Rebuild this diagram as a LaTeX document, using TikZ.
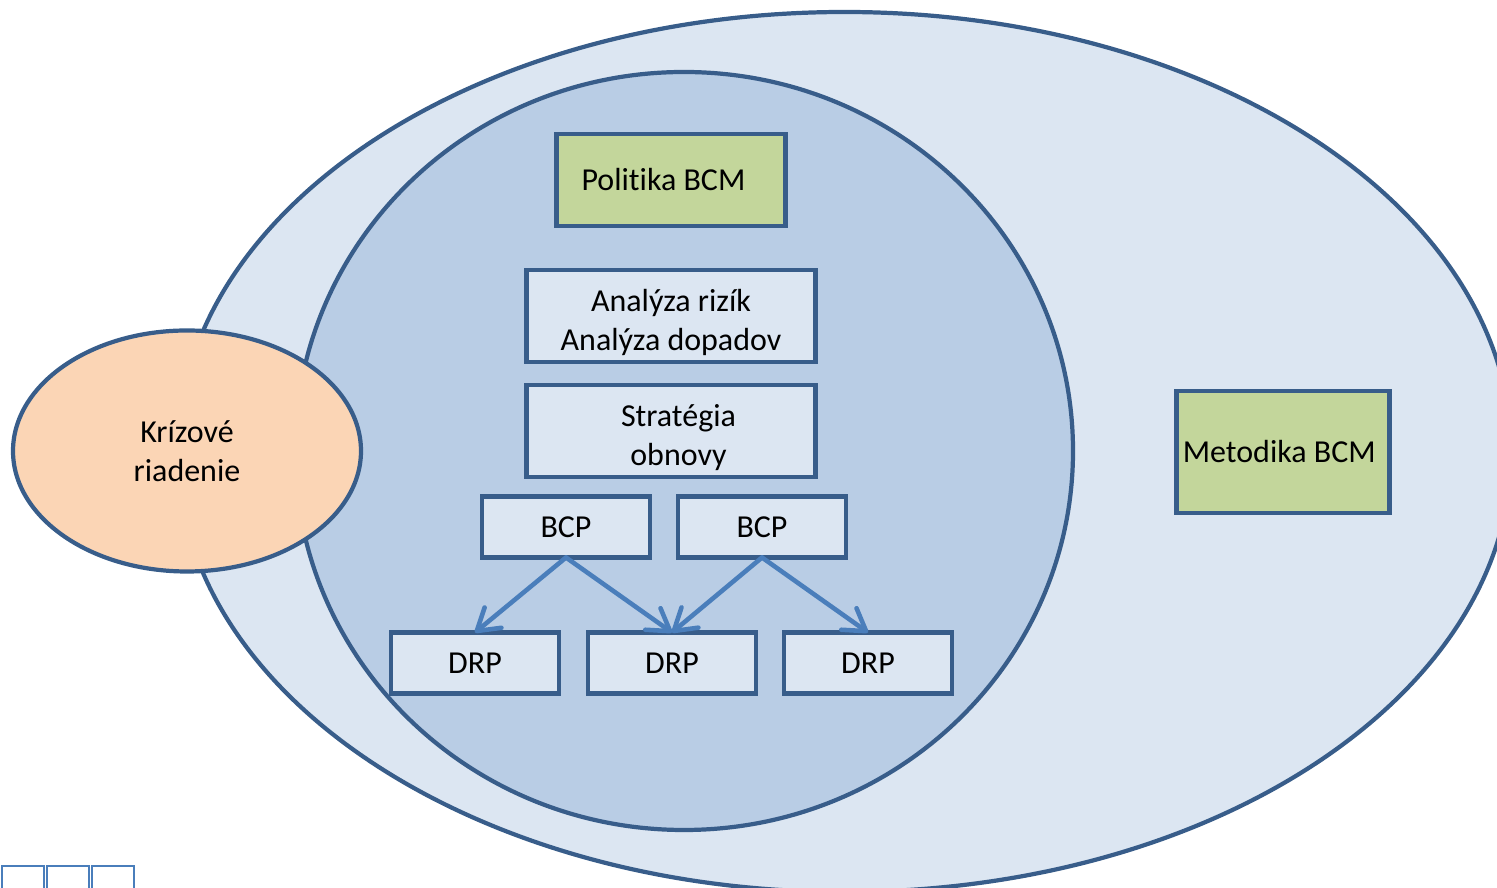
\documentclass[tikz,border=0pt]{standalone}
\usepackage{fontspec}
\setmainfont{Carlito}[Ligatures=NoCommon]
\usetikzlibrary{shapes.geometric,arrows.meta}

\definecolor{borderColour}{HTML}{385D8A}
\definecolor{outerFill}{HTML}{DCE6F2}
\definecolor{innerFill}{HTML}{B9CDE5}
\definecolor{boxFill}{HTML}{DCE6F2}
\definecolor{greenFill}{HTML}{C3D69B}
\definecolor{orangeFill}{HTML}{FBD5B5}
\definecolor{arrowColour}{HTML}{4A7EBB}

\tikzset{
    planbox/.style={draw=borderColour, fill=boxFill, line width=2.6pt, align=center,
        inner sep=0pt, outer sep=0pt, font=\fontsize{18.2}{22}\selectfont},
    greenbox/.style={planbox, fill=greenFill},
    planarrow/.style={draw=arrowColour, line width=2.6pt, line cap=round,
        -{Straight Barb[length=12pt,width=15pt,line width=2.6pt,round]}}
}

\begin{document}
\begin{tikzpicture}
    \useasboundingbox (0,0) rectangle (29.94,17.76);
    \clip (0,0) rectangle (29.94,17.76);

    % Ellipses
    \filldraw[fill=outerFill, draw=borderColour, line width=2.4pt] (16.89,8.72) ellipse (13.34 and 8.8);
    \filldraw[fill=innerFill, draw=borderColour, line width=2.4pt] (13.68,8.74) ellipse (7.78 and 7.58);
    \node[ellipse, draw=borderColour, fill=orangeFill, line width=2.4pt, inner sep=0pt,
        minimum width=6.96cm, minimum height=4.82cm, align=center,
        font=\fontsize{18.2}{22}\selectfont] (krizove) at (3.74,8.74) {Krízové\\riadenie};

    % Boxes
    \node[greenbox, minimum width=4.58cm, minimum height=1.84cm] (politika) at (13.42,14.16) {Politika BCM\hspace*{0.3cm}};
    \node[planbox, minimum width=5.78cm, minimum height=1.84cm] (analyza) at (13.42,11.44) {\rule{0pt}{20pt}Analýza rizík\\Analýza dopadov};
    \node[planbox, minimum width=5.78cm, minimum height=1.84cm] (strategia) at (13.42,9.14) {\rule{0pt}{20pt}\hspace*{0.3cm}Stratégia\\\hspace*{0.3cm}obnovy};
    \node[planbox, minimum width=3.36cm, minimum height=1.22cm] (bcpA) at (11.32,7.22) {BCP};
    \node[planbox, minimum width=3.36cm, minimum height=1.22cm] (bcpB) at (15.24,7.22) {BCP};
    \node[planbox, minimum width=3.36cm, minimum height=1.22cm] (drpA) at (9.5,4.5) {DRP};
    \node[planbox, minimum width=3.36cm, minimum height=1.22cm] (drpB) at (13.44,4.5) {DRP};
    \node[planbox, minimum width=3.36cm, minimum height=1.22cm] (drpC) at (17.36,4.5) {DRP};
    \node[greenbox, minimum width=4.26cm, minimum height=2.44cm] (metodika) at (25.66,8.72) {Metodika BCM\hspace*{0.15cm}};

    % Arrows
    \draw[planarrow] (bcpA.south) -- (drpA.north);
    \draw[planarrow] (bcpA.south) -- (drpB.north);
    \draw[planarrow] (bcpB.south) -- (drpB.north);
    \draw[planarrow] (bcpB.south) -- (drpC.north);

    % Squares in the corner
    \foreach \x in {0.04,0.94,1.84}
        \draw[draw=arrowColour, line width=1.5pt] (\x,-0.5) rectangle ++(0.84,0.94);

\end{tikzpicture}
\end{document}
